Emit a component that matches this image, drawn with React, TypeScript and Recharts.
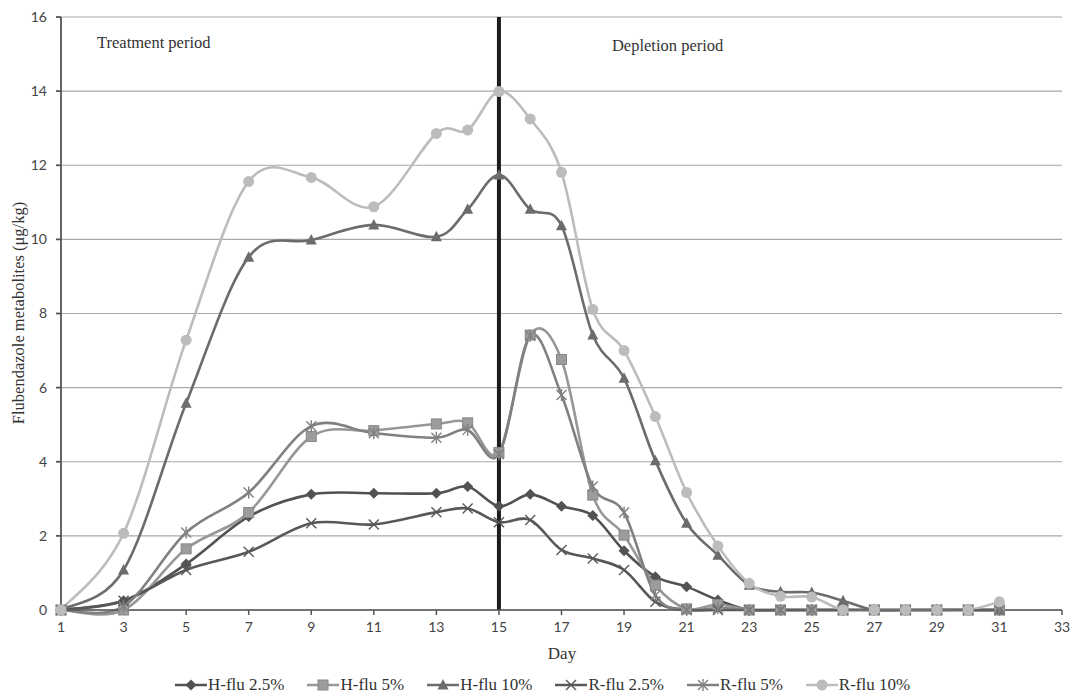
import React from "react";
import {
  LineChart,
  Line,
  XAxis,
  YAxis,
  CartesianGrid,
  ReferenceLine,
  Legend,
} from "recharts";

const days = [1, 3, 5, 7, 9, 11, 13, 14, 15, 16, 17, 18, 19, 20, 21, 22, 23, 24, 25, 26, 27, 28, 29, 30, 31];
const hFlu25 = [0, 0.25, 1.24, 2.52, 3.12, 3.15, 3.15, 3.33, 2.8, 3.12, 2.8, 2.55, 1.6, 0.9, 0.63, 0.27, 0, 0, 0, 0, 0, 0, 0, 0, 0];
const hFlu5 = [0, 0, 1.65, 2.63, 4.68, 4.84, 5.02, 5.05, 4.25, 7.42, 6.76, 3.1, 2.02, 0.67, 0.03, 0.15, 0, 0, 0, 0, 0, 0, 0, 0, 0];
const hFlu10 = [0, 1.08, 5.58, 9.52, 9.98, 10.39, 10.07, 10.81, 11.74, 10.81, 10.37, 7.42, 6.25, 4.03, 2.34, 1.48, 0.67, 0.49, 0.47, 0.25, 0, 0, 0, 0, 0];
const rFlu25 = [0, 0.25, 1.08, 1.57, 2.34, 2.31, 2.64, 2.74, 2.37, 2.43, 1.62, 1.39, 1.08, 0.22, 0, 0, 0, 0, 0, 0, 0, 0, 0, 0, 0];
const rFlu5 = [0, 0.1, 2.09, 3.17, 4.96, 4.77, 4.65, 4.86, 4.2, 7.4, 5.8, 3.33, 2.63, 0.4, 0, 0.05, 0, 0, 0, 0, 0, 0, 0, 0, 0];
const rFlu10 = [0, 2.07, 7.28, 11.56, 11.67, 10.88, 12.86, 12.95, 13.99, 13.25, 11.81, 8.11, 7.0, 5.22, 3.17, 1.73, 0.72, 0.37, 0.35, 0, 0, 0, 0, 0, 0.22];

const xTicks = [1, 3, 5, 7, 9, 11, 13, 15, 17, 19, 21, 23, 25, 27, 29, 31, 33];
const yTicks = [0, 2, 4, 6, 8, 10, 12, 14, 16];

const data = days.map((day, i) => ({
  day,
  hFlu25: hFlu25[i],
  hFlu5: hFlu5[i],
  hFlu10: hFlu10[i],
  rFlu25: rFlu25[i],
  rFlu5: rFlu5[i],
  rFlu10: rFlu10[i],
}));

const series = [
  { key: "hFlu25", name: "H-flu 2.5%", color: "#525252", shape: "diamond" },
  { key: "hFlu5", name: "H-flu 5%", color: "#979797", shape: "square" },
  { key: "hFlu10", name: "H-flu 10%", color: "#6c6c6c", shape: "triangle" },
  { key: "rFlu25", name: "R-flu 2.5%", color: "#585858", shape: "cross" },
  { key: "rFlu5", name: "R-flu 5%", color: "#808080", shape: "star" },
  { key: "rFlu10", name: "R-flu 10%", color: "#bcbcbc", shape: "circle" },
];

const serif = "'Liberation Serif', 'Times New Roman', serif";
const sans = "Lato, 'Open Sans', sans-serif";

// Excel-style smoothed line (cubic bezier, catmull-rom like tangents)
function excelSmooth(context: any) {
  let pts: number[][] = [];
  return {
    areaStart() {},
    areaEnd() {},
    lineStart() {
      pts = [];
    },
    point(x: number, y: number) {
      pts.push([+x, +y]);
    },
    lineEnd() {
      const n = pts.length;
      if (!n) return;
      context.moveTo(pts[0][0], pts[0][1]);
      for (let i = 0; i < n - 1; i++) {
        const p0 = pts[i - 1] || pts[i];
        const p1 = pts[i];
        const p2 = pts[i + 1];
        const p3 = pts[i + 2] || p2;
        context.bezierCurveTo(
          p1[0] + (p2[0] - p0[0]) / 6,
          p1[1] + (p2[1] - p0[1]) / 6,
          p2[0] - (p3[0] - p1[0]) / 6,
          p2[1] - (p3[1] - p1[1]) / 6,
          p2[0],
          p2[1]
        );
      }
    },
  };
}

function Marker({ shape, cx, cy, color }: { shape: string; cx: number; cy: number; color: string }) {
  if (cx == null || cy == null) return null;
  switch (shape) {
    case "diamond":
      return (
        <polygon
          points={`${cx},${cy - 5.5} ${cx + 5.5},${cy} ${cx},${cy + 5.5} ${cx - 5.5},${cy}`}
          fill={color}
        />
      );
    case "square":
      return <rect x={cx - 5} y={cy - 5} width={10} height={10} fill="#9c9c9c" stroke="#888" strokeWidth={1} />;
    case "triangle":
      return (
        <polygon points={`${cx},${cy - 6} ${cx + 5.5},${cy + 4.5} ${cx - 5.5},${cy + 4.5}`} fill={color} />
      );
    case "cross":
      return (
        <g stroke={color} strokeWidth={1.4}>
          <line x1={cx - 5} y1={cy - 5} x2={cx + 5} y2={cy + 5} />
          <line x1={cx - 5} y1={cy + 5} x2={cx + 5} y2={cy - 5} />
        </g>
      );
    case "star":
      return (
        <g stroke={color} strokeWidth={1.4}>
          <line x1={cx - 5} y1={cy - 5} x2={cx + 5} y2={cy + 5} />
          <line x1={cx - 5} y1={cy + 5} x2={cx + 5} y2={cy - 5} />
          <line x1={cx} y1={cy - 6} x2={cx} y2={cy + 6} />
        </g>
      );
    default:
      return <circle cx={cx} cy={cy} r={5.5} fill={color} />;
  }
}

function LegendContent() {
  return (
    <div
      style={{
        display: "flex",
        alignItems: "center",
        height: 22,
        paddingLeft: 175,
        fontFamily: serif,
        fontSize: 17,
        color: "#333",
        whiteSpace: "nowrap",
      }}
    >
      {series.map((s) => (
        <div key={s.key} style={{ display: "flex", alignItems: "center", marginRight: 23 }}>
          <svg width={32} height={14} style={{ marginRight: 1 }}>
            <line x1={0} y1={7} x2={32} y2={7} stroke={s.color} strokeWidth={2.5} />
            <Marker shape={s.shape} cx={16} cy={7} color={s.color} />
          </svg>
          <span>{s.name}</span>
        </div>
      ))}
    </div>
  );
}

export default function App() {
  return (
    <div style={{ position: "absolute", left: 0, top: 0, width: 1071, height: 696, background: "#fff" }}>
      <LineChart width={1071} height={696} data={data} margin={{ top: 17, right: 9, left: 0, bottom: 0 }}>
        <CartesianGrid vertical={false} stroke="#a9a9a9" strokeWidth={1.2} />
        <XAxis
          dataKey="day"
          type="number"
          domain={[1, 33]}
          ticks={xTicks}
          height={64}
          tickSize={5}
          tickMargin={7}
          stroke="#555"
          strokeWidth={1.5}
          tick={{ fontFamily: sans, fontSize: 14, fill: "#444" }}
          label={() => (
            <text x={562} y={653} textAnchor="middle" dominantBaseline="central" fontFamily={serif} fontSize={17} fill="#333">
              Day
            </text>
          )}
        />
        <YAxis
          domain={[0, 16]}
          ticks={yTicks}
          width={61}
          tickSize={5}
          tickMargin={9}
          stroke="#555"
          strokeWidth={1.8}
          tick={{ fontFamily: sans, fontSize: 14, fill: "#444" }}
          label={() => (
            <text
              x={18}
              y={313}
              transform="rotate(-90 18 313)"
              textAnchor="middle"
              dominantBaseline="central"
              fontFamily={serif}
              fontSize={16.5}
              fill="#333"
            >
              Flubendazole metabolites (μg/kg)
            </text>
          )}
        />
        <Legend verticalAlign="bottom" content={LegendContent} />
        {series.map((s) => (
          <Line
            key={s.key}
            dataKey={s.key}
            name={s.name}
            type={excelSmooth as any}
            stroke={s.color}
            strokeWidth={2.6}
            isAnimationActive={false}
            dot={(p: any) => <Marker key={`${s.key}-${p.index}`} shape={s.shape} cx={p.cx} cy={p.cy} color={s.color} />}
            activeDot={false}
          />
        ))}
        <ReferenceLine
          x={15}
          stroke="#1c1c1c"
          strokeWidth={4}
          label={(p: any) => {
            const vx = p.viewBox ? p.viewBox.x : 498;
            return (
              <g fontFamily={serif} fontSize={16.5} fill="#333">
                <text x={97} y={42} dominantBaseline="central">
                  Treatment period
                </text>
                <text x={vx + 113} y={45} dominantBaseline="central">
                  Depletion period
                </text>
              </g>
            );
          }}
        />
      </LineChart>
    </div>
  );
}
